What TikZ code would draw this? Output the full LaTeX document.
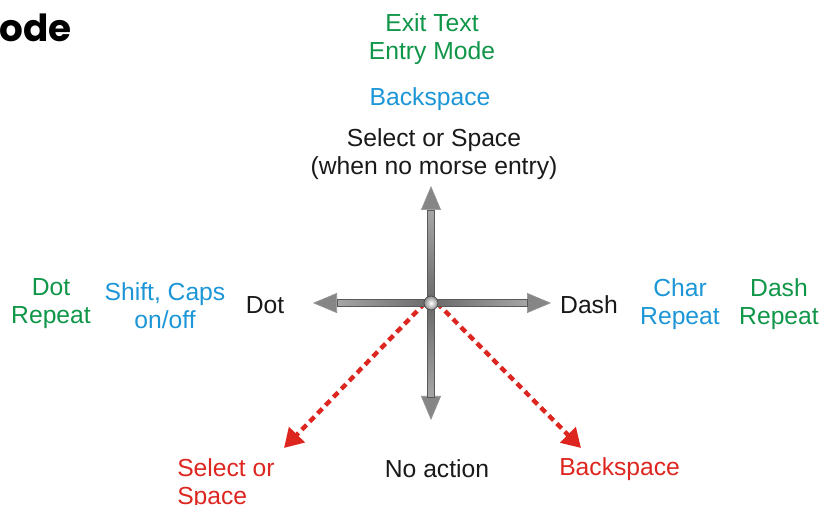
\documentclass[tikz,border=0pt]{standalone}
\usepackage{fontspec}
\setmainfont{Liberation Sans}
\newfontfamily\headfont{Poppins}
\usetikzlibrary{arrows.meta,positioning}
\definecolor{cmdgreen}{RGB}{16,150,72}
\definecolor{cmdblue}{RGB}{28,150,214}
\definecolor{cmdred}{RGB}{222,38,32}
\definecolor{cmdblack}{RGB}{25,25,25}
\tikzset{
    % Text styles
    cmd/.style={font=\fontsize{18.5}{21}\selectfont, align=center, inner sep=0pt},
    green cmd/.style={cmd, text=cmdgreen},
    blue cmd/.style={cmd, text=cmdblue},
    red cmd/.style={cmd, text=cmdred},
    black cmd/.style={cmd, text=cmdblack},
    % Arrow styles
    stick/.style={line width=5pt, draw=gray!85, -{Triangle[length=18pt, width=15pt, fill=gray!95, line width=0.5pt]}},
    flick/.style={line width=3.3pt, draw=cmdred, dash pattern=on 5pt off 3.5pt,
                  -{Triangle[length=14pt, width=16pt, fill=cmdred]}},
    shaft/.style={draw=gray!70!black, line width=0.3pt},
}
\begin{document}
\begin{tikzpicture}[x=0.75pt, y=-0.75pt]
    \useasboundingbox (0, 0) rectangle (821, 505);

    % Heading
    \node[anchor=west, inner sep=0pt, font=\headfont\bfseries\fontsize{28}{32}\selectfont] (head) at (-1, 28) {ode};

    % Stick directions
    \coordinate (hub) at (431, 303);
    \coordinate (nTip) at (431, 186);
    \coordinate (sTip) at (431, 420);
    \coordinate (wTip) at (313, 303);
    \coordinate (eTip) at (551, 303);
    \coordinate (swTip) at (284, 448);
    \coordinate (seTip) at (581, 448);

    % Red flicks
    \draw[flick] ([xshift=-4.5pt]hub) -- (swTip);
    \draw[flick] ([xshift=4.5pt]hub) -- (seTip);

    % Gray stick arrows
    \draw[stick] (hub) -- (nTip);
    \draw[stick] (hub) -- (sTip);
    \draw[stick] (hub) -- (wTip);
    \draw[stick] (hub) -- (eTip);
    \shade[shaft, top color=gray!70, middle color=white, bottom color=gray!85!black] (427.5, 210) rectangle (434.5, 298);
    \shade[shaft, top color=gray!85!black, middle color=white, bottom color=gray!70] (427.5, 308) rectangle (434.5, 397);
    \shade[shaft, left color=gray!70, middle color=white, right color=gray!85!black] (337, 299.5) rectangle (426, 306.5);
    \shade[shaft, left color=gray!85!black, middle color=white, right color=gray!70] (436, 299.5) rectangle (527, 306.5);
    \shade[inner color=white, outer color=gray!90, draw=gray!60!black, line width=0.6pt] (hub) circle (7);

    % Up
    \node[green cmd] (exit) at (432, 39) {Exit Text\\Entry Mode};
    \node[blue cmd] (upBack) at (430, 99) {Backspace};
    \node[black cmd] (select) at (434, 154) {Select or Space\\(when no morse entry)};

    % Left
    \node[green cmd] (dotRep) at (51, 304) {Dot\\Repeat};
    \node[blue cmd] (shift) at (165, 306) {Shift, Caps\\on/off};
    \node[black cmd] (dot) at (265, 305) {Dot};

    % Right
    \node[black cmd] (dash) at (589, 305) {Dash};
    \node[blue cmd] (charRep) at (680, 304) {Char\\Repeat};
    \node[green cmd] (dashRep) at (779, 304) {Dash\\Repeat};

    % Down
    \node[red cmd, align=left, anchor=west] (selSpace) at (177, 484) {Select or\\Space};
    \node[black cmd] (noAct) at (437, 469) {No action};
    \node[red cmd, anchor=west] (downBack) at (559, 469) {Backspace};
\end{tikzpicture}
\end{document}
